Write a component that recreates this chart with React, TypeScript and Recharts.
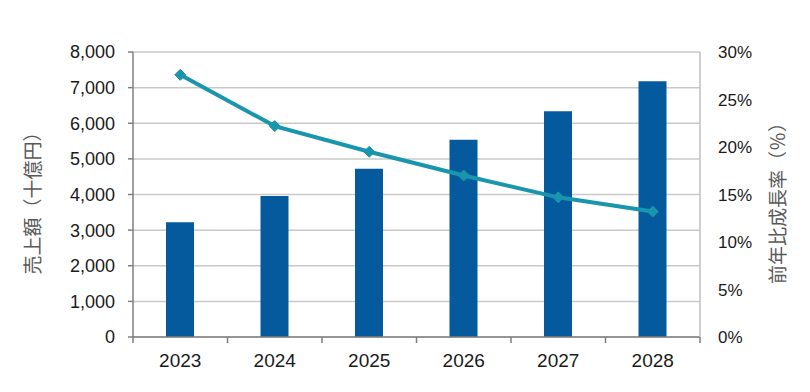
import React from 'react';
import { ComposedChart, Bar, Line, XAxis, YAxis, CartesianGrid, Label } from 'recharts';

const years = ['2023', '2024', '2025', '2026', '2027', '2028'];
const sales = [3220, 3960, 4720, 5540, 6340, 7180];
const growth = [27.6, 22.2, 19.5, 17.0, 14.7, 13.2];
const leftTicks = [0, 1000, 2000, 3000, 4000, 5000, 6000, 7000, 8000];
const rightTicks = [0, 5, 10, 15, 20, 25, 30];
const leftTitle = '売上額（十億円）';
const rightTitle = '前年比成長率（％）';

const data = years.map((y, i) => ({ year: y, sales: sales[i], growth: growth[i] }));

const tickFont = "'Liberation Sans', Arial, sans-serif";
const cjkFont = "'Noto Sans CJK JP', sans-serif";
const axisColor = '#7f7f7f';
const textColor = '#1a1a1a';

const XTick = (props: any) => {
  const { x, y, payload, index, visibleTicksCount } = props;
  const off = payload && payload.offset ? payload.offset : 0;
  const axisY = y - 17;
  return (
    <g>
      <line x1={x - off} x2={x - off} y1={axisY} y2={axisY + 6} stroke={axisColor} strokeWidth={1.5} />
      {index === visibleTicksCount - 1 && (
        <line x1={x + off} x2={x + off} y1={axisY} y2={axisY + 6} stroke={axisColor} strokeWidth={1.5} />
      )}
      <text x={x} y={y} dy="0.71em" textAnchor="middle" fill={textColor} fontSize={19} fontFamily={tickFont}>
        {payload.value}
      </text>
    </g>
  );
};

const Diamond = (props: any) => {
  const { cx, cy } = props;
  if (cx == null || cy == null) return null;
  const r = 5.5;
  return (
    <polygon
      points={`${cx},${cy - r} ${cx + r},${cy} ${cx},${cy + r} ${cx - r},${cy}`}
      fill="#1995AD"
      stroke="#1995AD"
    />
  );
};

const LeftTitle = (props: any) => {
  const vb = props.viewBox || { x: 0, y: 52, width: 133, height: 285 };
  const cx = vb.x + 31;
  const cy = vb.y + vb.height / 2 + 4;
  return (
    <text
      x={cx}
      y={cy}
      transform={`rotate(-90 ${cx} ${cy})`}
      textAnchor="middle"
      dominantBaseline="central"
      fill="#595959"
      fontSize={19}
      fontFamily={cjkFont}
    >
      {leftTitle}
    </text>
  );
};

const RightTitle = (props: any) => {
  const vb = props.viewBox || { x: 700, y: 52, width: 110, height: 285 };
  const cx = vb.x + 76;
  const cy = vb.y + vb.height / 2 + 4;
  return (
    <text
      x={cx}
      y={cy}
      transform={`rotate(-90 ${cx} ${cy})`}
      textAnchor="middle"
      dominantBaseline="central"
      fill="#595959"
      fontSize={19}
      fontFamily={cjkFont}
    >
      {rightTitle}
    </text>
  );
};

export default function App() {
  return (
    <div style={{ position: 'absolute', left: 0, top: 0, background: '#fff' }}>
      <ComposedChart
        width={810}
        height={392}
        data={data}
        margin={{ top: 52, right: 0, bottom: 0, left: 0 }}
      >
        <CartesianGrid vertical={false} stroke="#c9c9c9" strokeWidth={1.5} yAxisId="left" />
        <XAxis
          dataKey="year"
          height={55}
          tickSize={0}
          tickMargin={17}
          tickLine={false}
          axisLine={{ stroke: axisColor, strokeWidth: 1.5 }}
          tick={<XTick />}
          interval={0}
        />
        <YAxis
          yAxisId="left"
          orientation="left"
          width={133}
          domain={[0, 8000]}
          ticks={leftTicks}
          interval={0}
          tickSize={5}
          tickMargin={13}
          tickLine={{ stroke: axisColor, strokeWidth: 1.5 }}
          axisLine={{ stroke: axisColor, strokeWidth: 1.5 }}
          tickFormatter={(v: number) => v.toLocaleString('en-US')}
          tick={{ fill: textColor, fontSize: 18, fontFamily: tickFont }}
        >
          <Label content={<LeftTitle />} />
        </YAxis>
        <YAxis
          yAxisId="right"
          orientation="right"
          width={110}
          domain={[0, 30]}
          ticks={rightTicks}
          interval={0}
          tickSize={0}
          tickMargin={18}
          tickLine={false}
          axisLine={{ stroke: '#bfbfbf', strokeWidth: 1.5 }}
          tickFormatter={(v: number) => `${v}%`}
          tick={{ fill: textColor, fontSize: 17, fontFamily: tickFont, textAnchor: 'start' }}
        >
          <Label content={<RightTitle />} />
        </YAxis>
        <Bar yAxisId="left" dataKey="sales" fill="#045A9C" barSize={28} isAnimationActive={false} />
        <Line
          yAxisId="right"
          dataKey="growth"
          type="linear"
          stroke="#1995AD"
          strokeWidth={4}
          dot={<Diamond />}
          activeDot={false}
          isAnimationActive={false}
        />
      </ComposedChart>
    </div>
  );
}
